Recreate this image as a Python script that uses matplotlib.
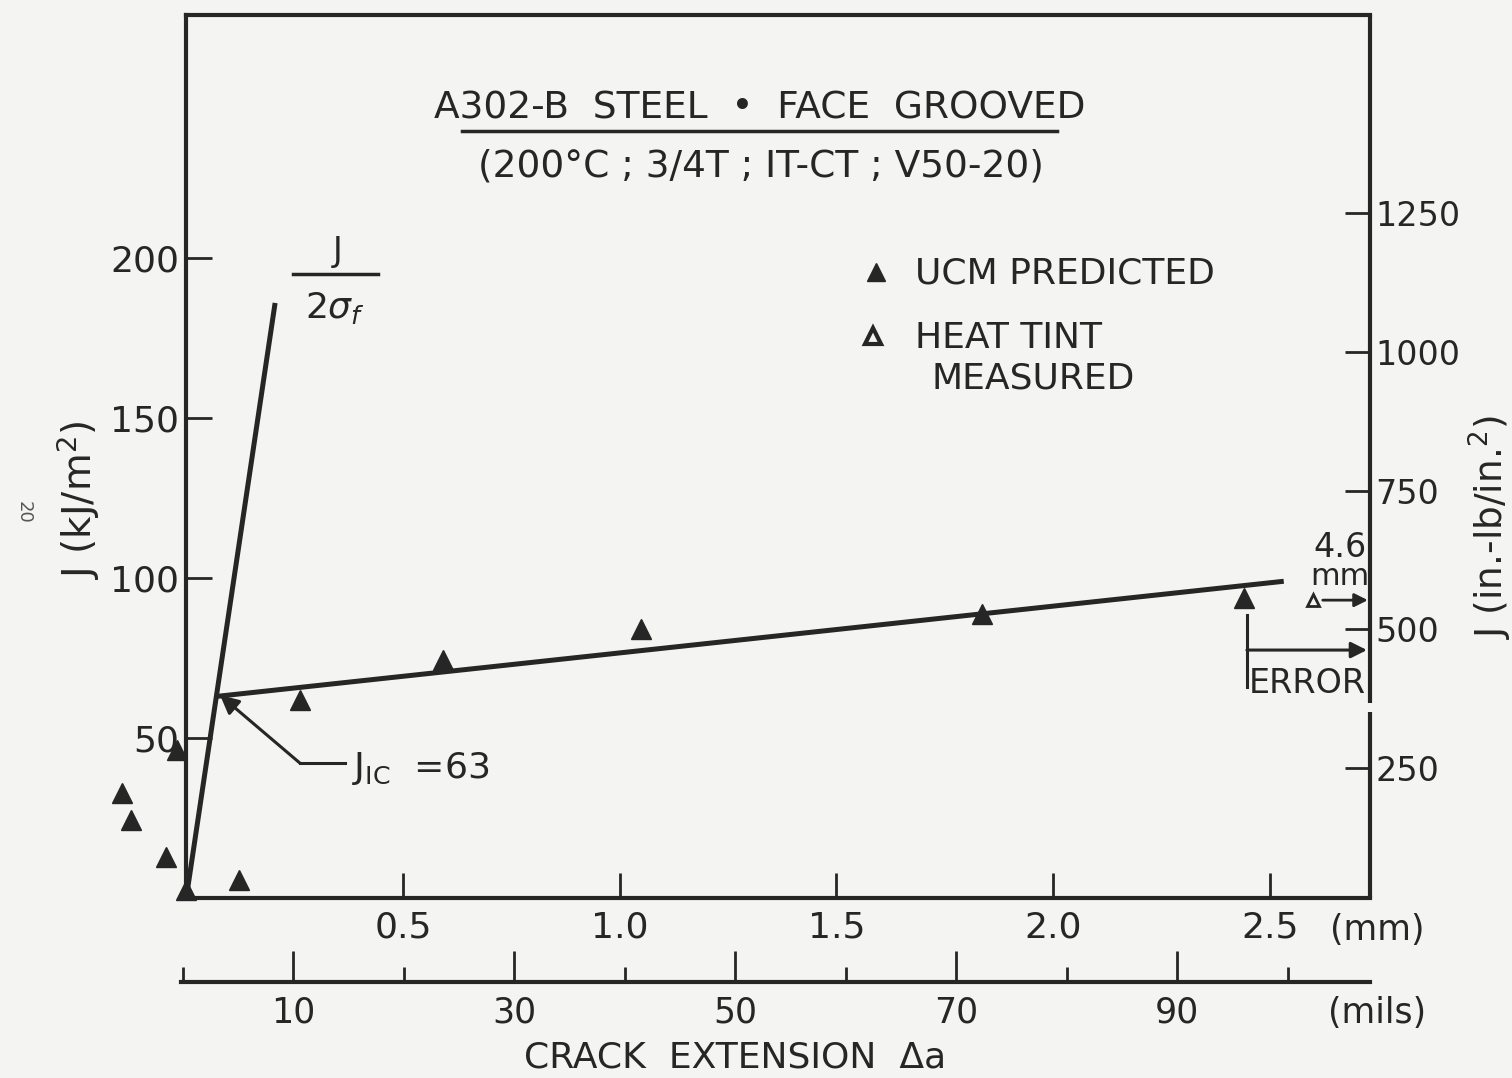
import matplotlib
matplotlib.use("Agg")
import matplotlib.pyplot as plt
from matplotlib.ticker import FixedLocator

plt.rcParams['font.family'] = ['DejaVu Sans']
plt.rcParams['mathtext.fontset'] = 'dejavusans'

# ---------------- data ----------------
# UCM predicted points: crack extension (mm), J (kJ/m^2)
ucm_da = [-0.148, -0.127, -0.047, 0.0, -0.021, 0.122, 0.262, 0.592, 1.048, 1.835, 2.440]
ucm_j = [32.8, 24.4, 12.8, 2.5, 46.3, 5.6, 61.9, 74.4, 84.1, 88.75, 93.8]

# blunting line J = 2 sigma_f * da
blunt_da = [0.0, 0.205]
blunt_j = [0.0, 186.0]

# R-curve fit line
rfit_da = [0.069, 2.532]
rfit_j = [63.0, 99.0]

mm_ticks = [0.5, 1.0, 1.5, 2.0, 2.5]
mm_labels = ["0.5", "1.0", "1.5", "2.0", "2.5"]
j_ticks = [50, 100, 150, 200]
j_labels = ["50", "100", "150", "200"]
inlb_ticks = [250, 500, 750, 1000, 1250]
inlb_labels = ["250", "500", "750", "1000", "1250"]
mils_major = [10, 30, 50, 70, 90]
mils_minor = [0, 20, 40, 60, 80, 100]

INK = '#262626'
BG = '#f4f4f2'

W, H = 1512, 1078
fig = plt.figure(figsize=(W / 100, H / 100), dpi=100, facecolor=BG)

x0, x1, yb, yt = 186.25, 1370, 898, 15
ax = fig.add_axes([x0 / W, 1 - yb / H, (x1 - x0) / W, (yb - yt) / H])
ax.set_facecolor(BG)
ax.set_xlim(0, 2.731)
ax.set_ylim(0, 276)

for s in ['left', 'bottom', 'top']:
    ax.spines[s].set_linewidth(3)
    ax.spines[s].set_color(INK)
ax.spines['right'].set_visible(False)
# right border with small gap (as in original)
ax.plot([1, 1], [0, 0.2106], transform=ax.transAxes, color=INK, lw=3, clip_on=False, solid_capstyle='butt')
ax.plot([1, 1], [0.2208, 1.0], transform=ax.transAxes, color=INK, lw=3, clip_on=False, solid_capstyle='butt')

ax.set_xticks(mm_ticks)
ax.set_xticklabels(mm_labels)
ax.set_yticks(j_ticks)
ax.set_yticklabels(j_labels)
ax.tick_params(axis='x', direction='in', length=18, width=2, color=INK, labelsize=26,
               labelcolor=INK, pad=9, top=False)
ax.tick_params(axis='y', direction='in', length=19, width=2, color=INK, labelsize=26,
               labelcolor=INK, pad=5, right=False)

tw = ax.twinx()
tw.set_ylim(15.8, 1606.8)
tw.set_yticks(inlb_ticks)
tw.set_yticklabels(inlb_labels)
tw.tick_params(axis='y', direction='in', length=18, width=2, color=INK, labelsize=24,
               labelcolor=INK, pad=4)
for s in tw.spines.values():
    s.set_visible(False)

# lines
ax.plot(blunt_da, blunt_j, color=INK, lw=3.6, solid_capstyle='butt')
ax.plot(rfit_da, rfit_j, color=INK, lw=3.6, solid_capstyle='butt')

# data points
ax.plot(ucm_da, ucm_j, linestyle='none', marker='^', ms=14, color=INK, clip_on=False, zorder=5)

# title
ax.text(1.323, 246.9, "A302-B  STEEL  \u2022  FACE  GROOVED", ha='center', va='center',
        fontsize=27, color=INK)
ax.plot([0.636, 2.008], [239.7, 239.7], color=INK, lw=2.5)
ax.text(1.326, 228.7, "(200\u00b0C ; 3/4T ; IT-CT ; V50-20)", ha='center', va='center',
        fontsize=27, color=INK)

# legend
ax.plot([1.591], [195.6], marker='^', ms=13, color=INK, linestyle='none')
ax.text(1.681, 195.3, "UCM PREDICTED", ha='left', va='center', fontsize=26, color=INK)
ax.plot([1.584], [175.6], marker='^', ms=11, mfc=BG, mec=INK, mew=3, linestyle='none')
ax.text(1.681, 175.0, "HEAT TINT", ha='left', va='center', fontsize=26, color=INK)
ax.text(1.72, 162.5, "MEASURED", ha='left', va='center', fontsize=26, color=INK)

# J / 2 sigma_f
ax.text(0.350, 202.0, "J", ha='center', va='center', fontsize=24, color=INK)
ax.plot([0.246, 0.442], [195.0, 195.0], color=INK, lw=2.5)
ax.text(0.342, 184.5, r"2$\sigma_f$", ha='center', va='center', fontsize=26, color=INK)

# J_IC annotation
ax.annotate('', xy=(0.078, 63.4), xytext=(0.262, 42.2),
            arrowprops=dict(arrowstyle='-|>', lw=2.2, color=INK, mutation_scale=28,
                            shrinkA=0, shrinkB=0))
ax.plot([0.262, 0.366], [42.2, 42.2], color=INK, lw=2.2)
ax.text(0.383, 40.5, r"J$_{\mathregular{IC}}$  =63", ha='left', va='center', fontsize=26, color=INK)

# 4.6 mm heat-tint off-scale marker
ax.text(2.662, 109.4, "4.6", ha='center', va='center', fontsize=24, color=INK)
ax.text(2.662, 100.5, "mm", ha='center', va='center', fontsize=22, color=INK)
ax.plot([2.60], [93.1], marker='^', ms=9, mfc=BG, mec=INK, mew=2, linestyle='none')
ax.annotate('', xy=(2.726, 93.1), xytext=(2.622, 93.1),
            arrowprops=dict(arrowstyle='-|>', lw=2, color=INK, mutation_scale=20,
                            shrinkA=0, shrinkB=0))

# ERROR bar
ax.plot([2.447, 2.447], [66.0, 88.4], color=INK, lw=2.2)
ax.annotate('', xy=(2.724, 77.5), xytext=(2.447, 77.5),
            arrowprops=dict(arrowstyle='-|>', lw=2.2, color=INK, mutation_scale=24,
                            shrinkA=0, shrinkB=0))
ax.text(2.452, 67.2, "ERROR", ha='left', va='center', fontsize=24, color=INK)

# mils axis
m0px, mscale = 182.5, 11.05
mx0, mx1, my = 181, 1370, 982
axm = fig.add_axes([mx0 / W, 1 - my / H, (mx1 - mx0) / W, 0.0001])
axm.patch.set_visible(False)
axm.set_xlim((mx0 - m0px) / mscale, (mx1 - m0px) / mscale)
for s in ['left', 'right', 'top']:
    axm.spines[s].set_visible(False)
axm.spines['bottom'].set_linewidth(3)
axm.spines['bottom'].set_color(INK)
axm.set_yticks([])
axm.xaxis.set_major_locator(FixedLocator(mils_major))
axm.xaxis.set_minor_locator(FixedLocator(mils_minor))
axm.set_xticklabels([str(v) for v in mils_major])
axm.tick_params(axis='x', which='major', direction='in', length=22, width=2, color=INK,
                labelsize=25, labelcolor=INK, pad=10)
axm.tick_params(axis='x', which='minor', direction='in', length=11, width=2, color=INK)

# axis labels and unit texts
fig.text(1330 / W, 1 - 930 / H, "(mm)", ha='left', va='center', fontsize=25, color=INK)
fig.text(1328 / W, 1 - 1013 / H, "(mils)", ha='left', va='center', fontsize=25, color=INK)
fig.text(735 / W, 1 - 1057 / H, "CRACK  EXTENSION  \u0394a", ha='center', va='center',
         fontsize=26, color=INK)
fig.text(78 / W, 1 - 500 / H, r"J (kJ/m$^2$)", ha='center', va='center', rotation=90,
         fontsize=28, color=INK)
fig.text(1490 / W, 1 - 527 / H, r"J (in.-lb/in.$^2$)", ha='center', va='center', rotation=90,
         fontsize=27, color=INK)
fig.text(24 / W, 1 - 512 / H, "20", ha='center', va='center', rotation=-90,
         fontsize=13, color='#555555')

fig.savefig("out.png", dpi=100, facecolor=BG)
